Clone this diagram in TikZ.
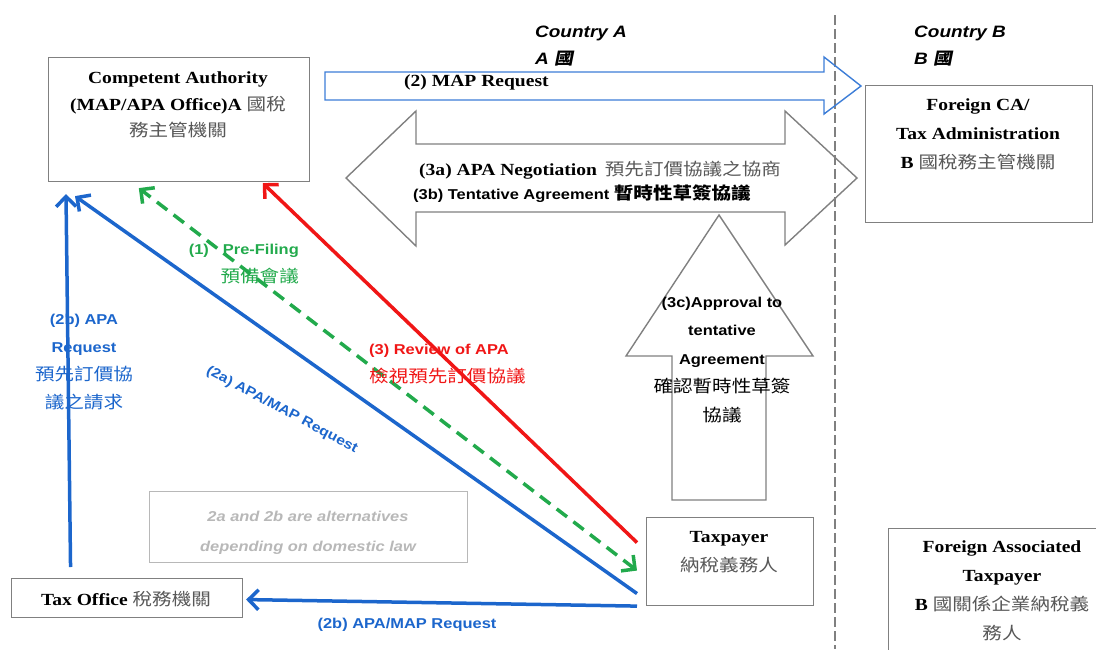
\documentclass[tikz,border=0pt]{standalone}
\usepackage{fontspec}
\setmainfont[FakeStretch=1.15]{Liberation Serif}
\setsansfont[FakeStretch=1.15]{Liberation Sans}
\newfontfamily\cjkfont[FakeStretch=1.15]{Noto Sans CJK TC}
\newfontfamily\cjkslant[FakeStretch=1.15,FakeSlant=0.2]{Noto Sans CJK TC}
\usetikzlibrary{arrows.meta}

\definecolor{flowblue}{RGB}{28,102,204}
\definecolor{mapblue}{RGB}{60,125,215}
\definecolor{flowgreen}{RGB}{34,170,76}
\definecolor{flowred}{RGB}{240,22,22}
\definecolor{frame}{RGB}{128,128,128}
\definecolor{zhgray}{RGB}{88,88,88}
\definecolor{notegray}{RGB}{184,184,184}

% Chinese text: regular, grey and bold variants
\newcommand\zh[1]{{\cjkfont\mdseries\fontsize{17}{28}\selectfont #1}}
\newcommand\zhg[1]{{\cjkfont\mdseries\fontsize{17}{28}\selectfont\color{zhgray}#1}}
\newcommand\zhb[1]{{\cjkfont\bfseries\fontsize{17}{28}\selectfont #1}}

\begin{document}
\begin{tikzpicture}[x=1pt,y=-1pt,
  box/.style={draw=frame,line width=1.1pt,fill=white,inner sep=0pt,anchor=north west},
  serif/.style={font=\rmfamily\bfseries\fontsize{17}{28}\selectfont,align=center,inner sep=0pt},
  sans/.style={font=\sffamily\bfseries\fontsize{14.3}{28}\selectfont,align=center,inner sep=0pt},
  bigarrow/.style={draw=frame,line width=1.4pt,line join=miter},
  flow/.style={line width=3.5pt,-{Straight Barb[length=10pt,width=20pt]}},
  flowboth/.style={line width=3.5pt,{Straight Barb[length=10pt,width=20pt]}-{Straight Barb[length=10pt,width=20pt]}},
]
\useasboundingbox (0,0) rectangle (1096,649);

% country divider
\draw[frame,line width=2pt,dash pattern=on 10pt off 4pt] (835,15) -- (835,649);

% country headings
\node[sans,font=\sffamily\bfseries\itshape\fontsize{16.5}{27}\selectfont,align=left,anchor=west] (ctryA) at (535,46.5)
  {Country A\\A {\cjkslant\bfseries 國}};
\node[sans,font=\sffamily\bfseries\itshape\fontsize{16.5}{27}\selectfont,align=left,anchor=west] (ctryB) at (914,46.5)
  {Country B\\B {\cjkslant\bfseries 國}};

% boxes
\node[box,minimum width=261.5pt,minimum height=124pt] (ca) at (47.5,57) {};
\node[box,minimum width=227pt,minimum height=137pt] (fca) at (865,85) {};
\node[box,minimum width=167pt,minimum height=88pt] (tp) at (646,517) {};
\node[box,minimum width=231pt,minimum height=39pt] (tax) at (11,578) {};
\node[box,draw=notegray,minimum width=318pt,minimum height=71pt] (note) at (149,491) {};
\node[box,minimum width=240pt,minimum height=140pt] (fat) at (888,528) {};

% box texts
\node[serif,font=\rmfamily\bfseries\fontsize{17}{26.5}\selectfont] (caT) at (178,105)
  {Competent Authority\\(MAP/APA Office)A \zhg{國稅}\\\zhg{務主管機關}};
\node[serif,font=\rmfamily\bfseries\fontsize{17}{29}\selectfont] (fcaT) at (978,134)
  {Foreign CA/\\Tax Administration\\B \zhg{國稅務主管機關}};
\node[serif,font=\rmfamily\bfseries\fontsize{17}{29}\selectfont] (tpT) at (729,552)
  {Taxpayer\\\zhg{納稅義務人}};
\node[serif] (taxT) at (126,599) {Tax Office \zhg{稅務機關}};
\node[serif,font=\rmfamily\bfseries\fontsize{17}{29}\selectfont] (fatT) at (1002,591)
  {Foreign Associated\\Taxpayer\\B \zhg{國關係企業納稅義}\\\zhg{務人}};
\node[sans,font=\sffamily\bfseries\itshape\fontsize{14.3}{30}\selectfont,text=notegray] (noteT) at (308,533)
  {2a and 2b are alternatives\\depending on domestic law};

% (2) MAP request block arrow
\draw[mapblue,line width=1.4pt,line join=miter]
  (325,72) -- (824,72) -- (824,57) -- (861,86) -- (824,114) -- (824,100) -- (325,100) -- cycle;
\node[serif,anchor=west] (mapT) at (404,82) {(2) MAP Request};

% (3a)/(3b) negotiation double arrow
\draw[bigarrow]
  (346,178) -- (416,111) -- (416,144) -- (785,144) -- (785,111) -- (857,178)
  -- (785,245) -- (785,212) -- (416,212) -- (416,246) -- cycle;
\node[serif,anchor=west] (negT) at (419,170) {(3a) APA Negotiation\hspace{8pt}\zhg{預先訂價協議之協商}};
\node[sans,anchor=west] (tentT) at (413,194) {(3b) Tentative Agreement \zhb{暫時性草簽協議}};

% (3c) approval up arrow
\draw[bigarrow]
  (719,215) -- (813,356) -- (766,356) -- (766,500) -- (672,500) -- (672,356) -- (626,356) -- cycle;
\node[sans,font=\sffamily\bfseries\fontsize{14.3}{28.5}\selectfont] (apprT) at (722,360)
  {(3c)Approval to\\tentative\\Agreement\\\zh{確認暫時性草簽}\\\zh{協議}};

% flows between the parties
\draw[flowboth,flowgreen,dash pattern=on 13pt off 8pt]
  ([shift={(-9,9)}]tp.west) -- ([shift={(-40,6)}]ca.south);
\draw[flow,flowred]
  ([shift={(-9,-19)}]tp.west) -- ([shift={(84,1)}]ca.south);
\draw[flow,flowblue]
  ([shift={(-9,32)}]tp.west) -- ([shift={(27.5,14)}]ca.south west);
\draw[flow,flowblue]
  ([shift={(-56.5,-11)}]tax.north) -- ([shift={(18.5,12)}]ca.south west);
\draw[flow,flowblue]
  ([shift={(-9,0)}]tp.south west) -- ([shift={(3,1.5)}]tax.east);

% flow labels
\node[sans,align=right,anchor=east,text=flowgreen] (preT) at (299,264.5)
  {(1)\hspace*{14pt}Pre-Filing\\\zh{預備會議}};
\node[sans,text=flowblue] (req2bT) at (84,362)
  {(2b) APA\\Request\\\zh{預先訂價協}\\\zh{議之請求}};
\node[sans,align=left,anchor=west,text=flowred] (revT) at (369,364.5)
  {(3) Review of APA\\\zh{檢視預先訂價協議}};
\node[sans,font=\sffamily\bfseries\fontsize{13.6}{28}\selectfont,text=flowblue,rotate=-28] (req2aT) at (282,410) {(2a) APA/MAP Request};
\node[sans,text=flowblue] (map2bT) at (407,625) {(2b) APA/MAP Request};
\end{tikzpicture}
\end{document}
